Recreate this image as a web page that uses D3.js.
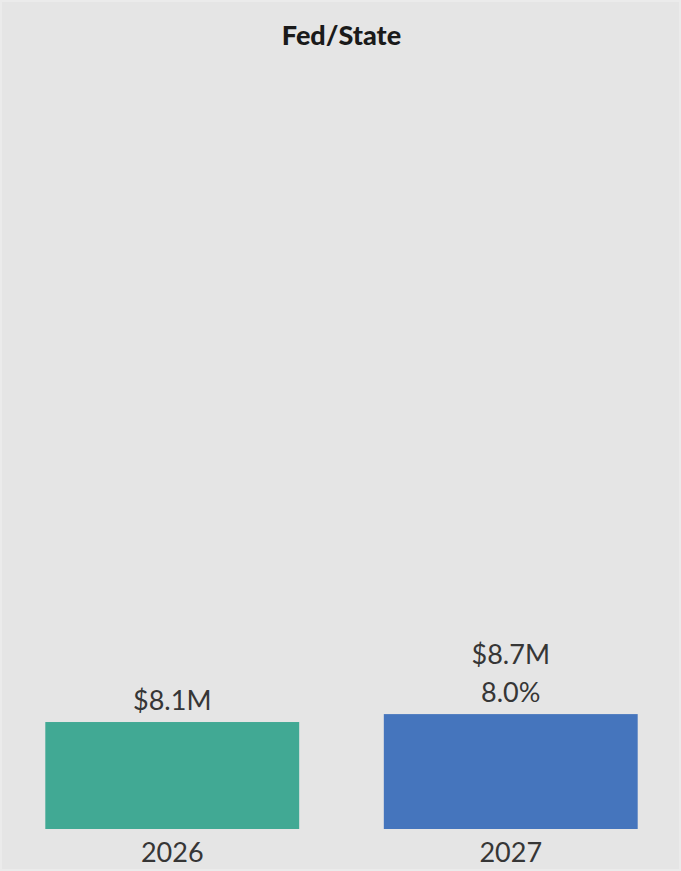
<!DOCTYPE html>
<html>
<head>
<meta charset="utf-8">
<script src="https://cdn.jsdelivr.net/npm/d3@7"></script>
<style>
  html, body { margin: 0; padding: 0; background: #e5e5e5; }
  svg { display: block; }
</style>
</head>
<body>
<svg id="chart" width="681" height="871"></svg>
<script>
const title = "Fed/State";
const categories = ["2026", "2027"];
const values = [8.1, 8.7];
const valueLabels = ["$8.1M", "$8.7M"];
const changeLabels = ["", "8.0%"];
const colors = ["#41a994", "#4575bd"];

const W = 681, H = 871;
const svg = d3.select("#chart");
const font = "Lato, 'Open Sans', sans-serif";

svg.append("rect").attr("width", W).attr("height", H).attr("fill", "#e5e5e5");
svg.append("rect").attr("x", 1).attr("y", 1).attr("width", W - 2).attr("height", H - 2)
  .attr("fill", "none").attr("stroke", "#ebebeb").attr("stroke-width", 2);

const x = d3.scaleBand().domain(categories).range([3, 680]).paddingInner(0.25).paddingOuter(0.125);
const y = d3.scaleLinear().domain([0, 58]).range([829, 63]);

svg.append("text")
  .attr("x", W / 2 + 1).attr("y", 45)
  .attr("text-anchor", "middle")
  .attr("font-family", font).attr("font-weight", 900)
  .attr("font-size", 27).attr("fill", "#1a1a1a")
  .text(title);

const g = svg.append("g");
const data = categories.map((c, i) => ({ c, v: values[i], lab: valueLabels[i], chg: changeLabels[i], col: colors[i] }));

g.selectAll("rect.bar").data(data).join("rect")
  .attr("class", "bar")
  .attr("x", d => x(d.c)).attr("width", x.bandwidth())
  .attr("y", d => y(d.v)).attr("height", d => y(0) - y(d.v))
  .attr("fill", d => d.col);

// value labels
g.selectAll("text.val").data(data).join("text")
  .attr("class", "val")
  .attr("x", d => x(d.c) + x.bandwidth() / 2)
  .attr("y", d => y(d.v) - 12 - (d.chg ? 38 : 0))
  .attr("text-anchor", "middle")
  .attr("font-family", font).attr("font-size", 27).attr("fill", "#363636")
  .text(d => d.lab);

g.selectAll("text.chg").data(data.filter(d => d.chg)).join("text")
  .attr("class", "chg")
  .attr("x", d => x(d.c) + x.bandwidth() / 2)
  .attr("y", d => y(d.v) - 12)
  .attr("text-anchor", "middle")
  .attr("font-family", font).attr("font-size", 27).attr("fill", "#363636")
  .text(d => d.chg);

// x axis
const xAxis = svg.append("g").attr("transform", `translate(0,${y(0)})`)
  .call(d3.axisBottom(x).tickSize(0).tickPadding(0));
xAxis.select(".domain").remove();
xAxis.selectAll("text")
  .attr("dy", 0).attr("y", 33)
  .attr("font-family", font).attr("font-size", 27).attr("fill", "#363636");
</script>
</body>
</html>
